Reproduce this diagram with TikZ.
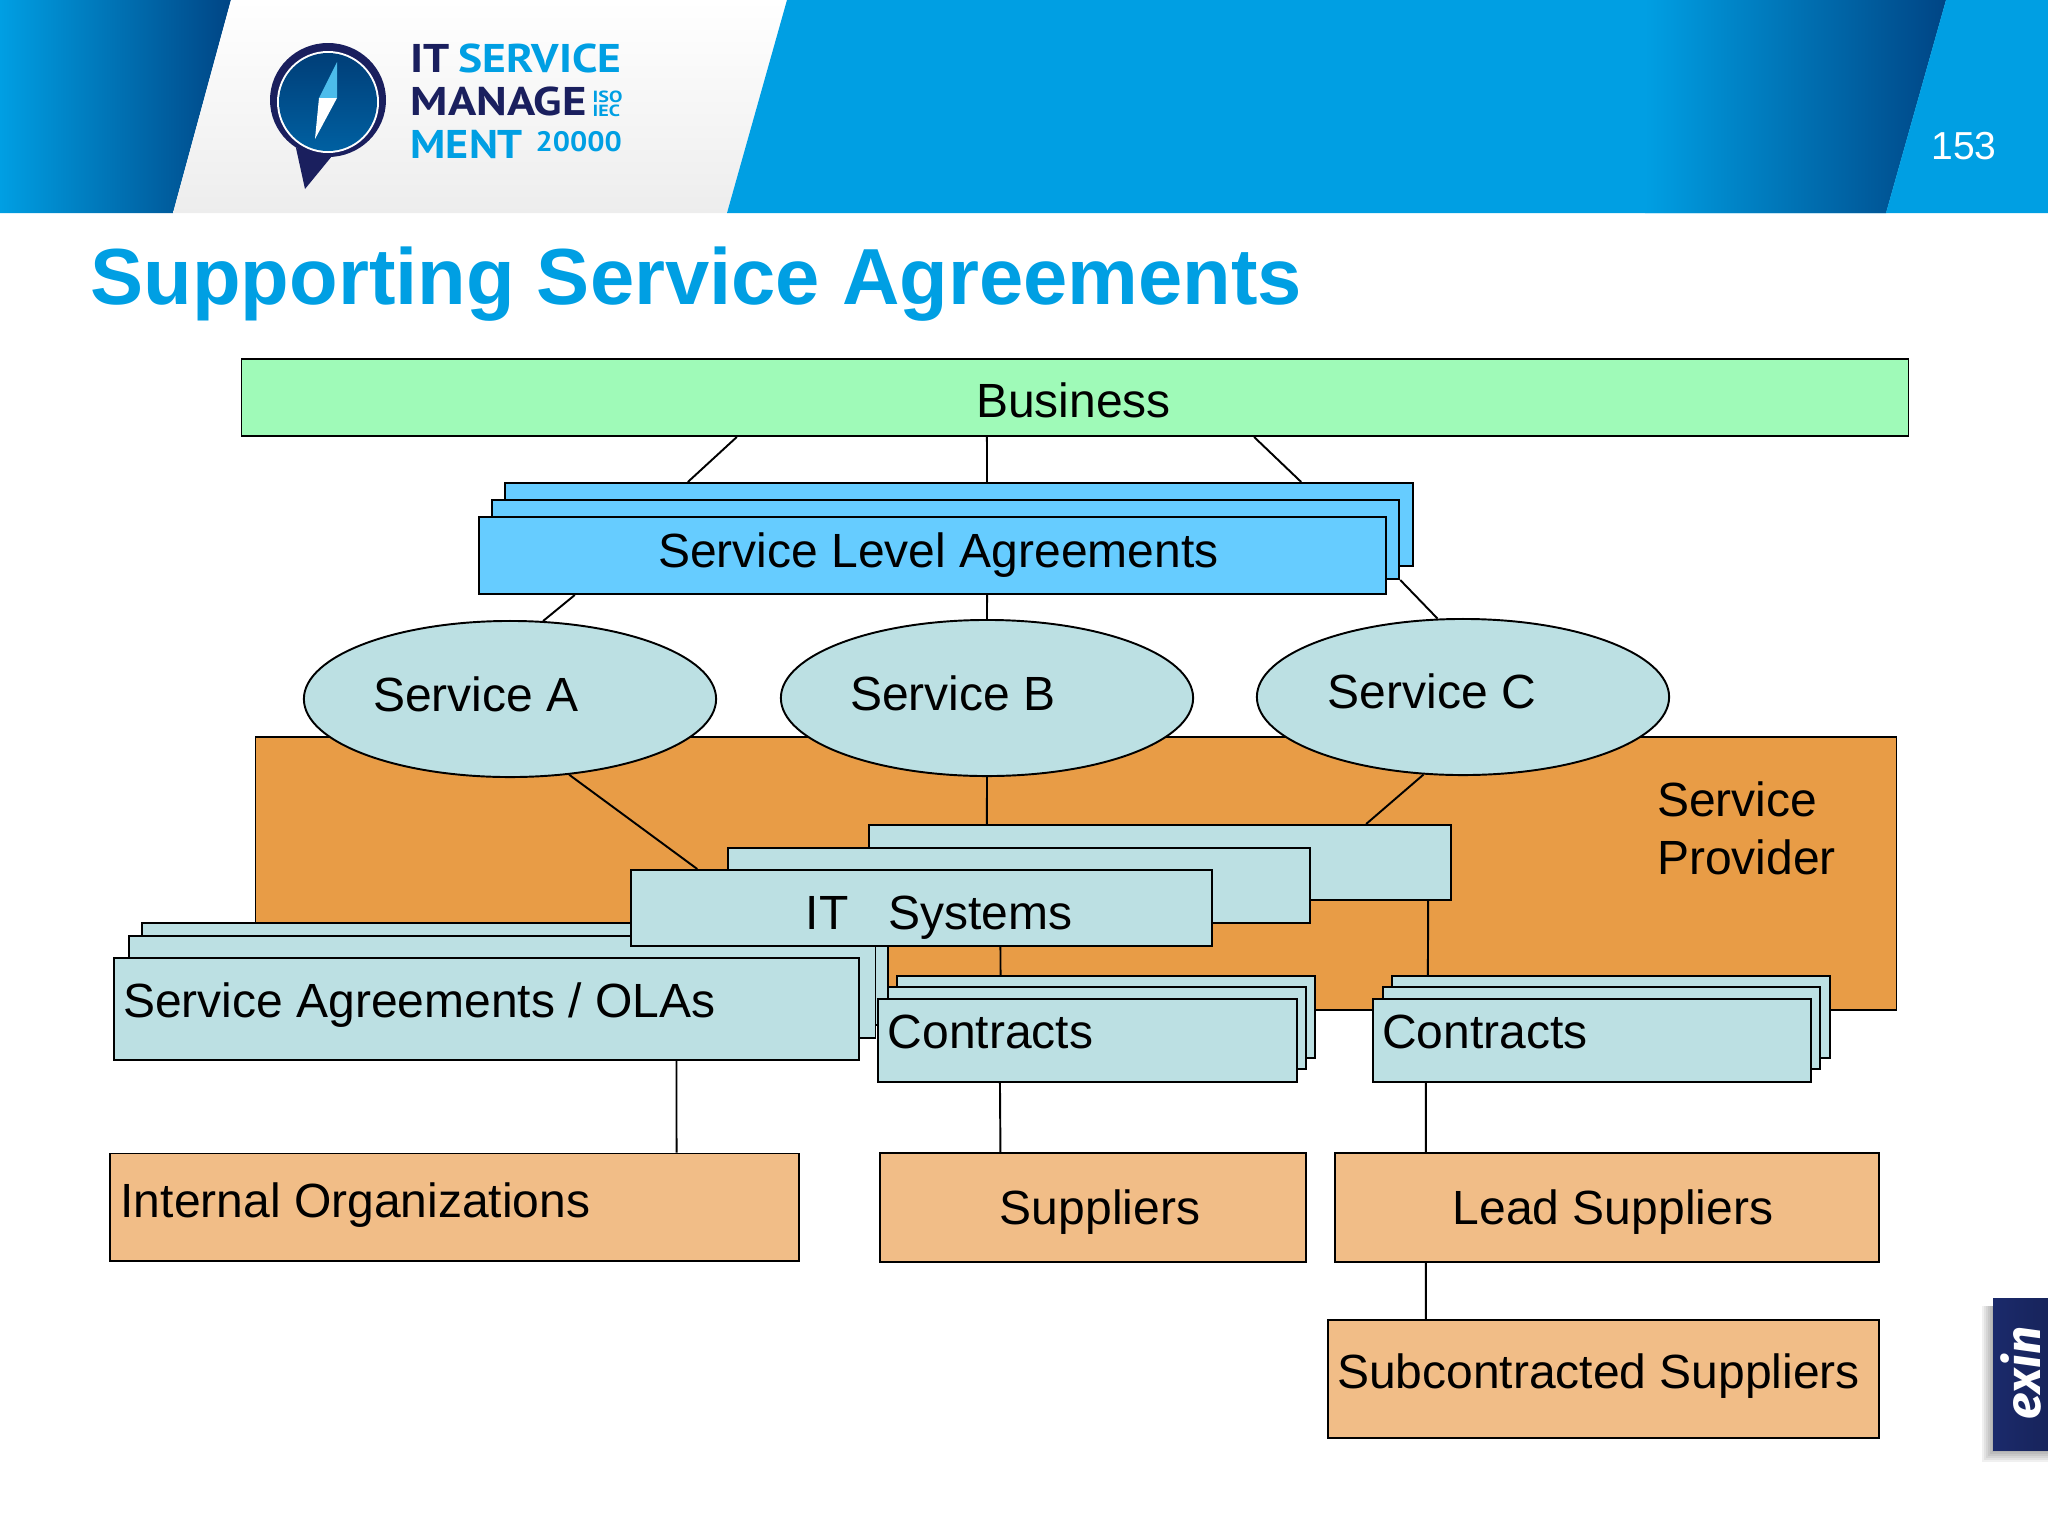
\documentclass[tikz,border=0pt]{standalone}
\usepackage{fontspec}
\usepackage{graphicx}
\setmainfont{Liberation Sans}
\newfontfamily\logofont{PT Sans}
\newfontfamily\tabfont{Fira Sans}
\usetikzlibrary{shapes.geometric}

\definecolor{headblue}{HTML}{009FE3}
\definecolor{headdark}{HTML}{004585}
\definecolor{navy}{HTML}{1A1F5E}
\definecolor{tabnavy}{HTML}{1B2A6B}
\definecolor{bizgreen}{HTML}{9FFAB8}
\definecolor{slablue}{HTML}{66CCFF}
\definecolor{palecyan}{HTML}{BCE0E3}
\definecolor{provorange}{HTML}{E89C46}
\definecolor{suporange}{HTML}{F1BD87}

\tikzstyle{every label}=[inner sep=0pt, font=\fontsize{13.65}{16.4}\selectfont]
\tikzstyle{box} = [rectangle, draw, line width=.55pt, inner sep=0pt]
\tikzstyle{service} = [ellipse, draw, line width=.55pt, inner sep=0pt, fill=palecyan,
     minimum width=4.12cm, minimum height=1.56cm]
\tikzstyle{pale} = [box, fill=palecyan]
\tikzstyle{supply} = [box, fill=suporange]
\tikzstyle{link} = [draw, line width=.55pt]
\tikzstyle{logotext} = [inner sep=0pt, anchor=base west]
\tikzstyle{logobig} = [logotext, font=\logofont\bfseries\fontsize{11.4}{13}\selectfont]
\tikzstyle{logosmall} = [logotext, text=headblue, font=\logofont\bfseries\fontsize{4.6}{5}\selectfont]

\begin{document}
\begin{tikzpicture}[x=.01cm,y=-.01cm]
\useasboundingbox (0,0) rectangle (2048,1536);

% banner
\shade[left color=headblue,right color=headdark] (0,0)--(231,0)--(173,213)--(0,213)--cycle;
\shade[top color=white,bottom color=black!7] (231,0)--(787,0)--(727,213)--(173,213)--cycle;
\fill[headblue] (787,0)--(1946,0)--(1886,213)--(727,213)--cycle;
\shade[left color=headblue,right color=headdark] (1645,0)--(1946,0)--(1886,213)--(1645,213)--cycle;
\fill[headblue] (1946,0)--(2048,0)--(2048,213)--(1886,213)--cycle;
\node[text=white,inner sep=0pt,font=\fontsize{11.1}{13}\selectfont](pageno) at (1964,146) {153};

% logo
\fill[navy] (296,148)--(305,189)--(332,156)--cycle;
\fill[navy] (328,100) ellipse (58 and 57);
\fill[white] (328,102) ellipse (51 and 51);
\shade[top color=headdark!90!black,bottom color=headdark!70!headblue] (328,102) ellipse (49 and 49);
\fill[headblue!70] (337,62)--(319,98)--(337,98)--cycle;
\fill[white] (319,98)--(337,98)--(315,139)--cycle;
\node[logobig,text=navy](logoit) at (410,72) {\scalebox{1.15}[1]{IT}};
\node[logobig,text=headblue](logoservice) at (458,72) {\scalebox{1.136}[1]{SERVICE}};
\node[logobig,text=navy](logomanage) at (410,115) {\scalebox{1.165}[1]{MANAGE}};
\node[logobig,text=headblue](logoment) at (410,158) {\scalebox{1.1}[1]{MENT}};
\node[logosmall](logoiso) at (592,102) {\scalebox{1.24}[1]{ISO}};
\node[logosmall](logoiec) at (592,116) {\scalebox{1.24}[1]{IEC}};
\node[logotext,text=headblue,font=\logofont\bfseries\fontsize{8}{9}\selectfont](logonum) at (535,151) {\scalebox{1.08}[1]{20000}};

% exin tab
\foreach \d in {0,1,...,5} {
  \fill[black,opacity=.06] (1982+\d*2,1306) rectangle (2048,1462-\d*2);
}
\shade[left color=tabnavy,right color=tabnavy!85!black] (1993,1298) rectangle (2048,1450);
\node[text=white,inner sep=0pt,rotate=90,font=\tabfont\bfseries\itshape\fontsize{14}{16}\selectfont](exin) at (2021,1373) {exin};

\node[inner sep=0pt,anchor=base west,text=headblue,font=\fontsize{22.62}{27}\selectfont\bfseries](title) at (90,304) {Supporting Service Agreements};

\node[box,fill=provorange,minimum width=16.4cm,minimum height=2.73cm,
     label={[align=left,xshift=6.7cm,yshift=.45cm]center:Service\\Provider}](provider) at (1076,873.5) {};
\node[box,fill=bizgreen,minimum width=16.66cm,minimum height=.77cm,
     label={[xshift=-.014cm,yshift=-.025cm]center:Business}](business) at (1075,397.5) {};

\node[box,fill=slablue,minimum width=9.08cm,minimum height=.83cm](slaback) at (959,524.5) {};
\node[box,fill=slablue,minimum width=9.07cm,minimum height=.79cm](slamid) at (945.5,539.5) {};
\node[box,fill=slablue,minimum width=9.07cm,minimum height=.77cm,
     label={[xshift=.059cm,yshift=.005cm]center:Service Level Agreements}](slafront) at (932.5,555.5) {};

\node[pale,minimum width=5.82cm,minimum height=.75cm](itback) at (1160,862.5) {};
\node[pale,minimum width=5.82cm,minimum height=.75cm](itmid) at (1019,885.5) {};

\node[service,label={[xshift=-.34cm,yshift=.05cm]center:Service A}](serva) at (510,699) {};
\node[service,label={[xshift=-.34cm,yshift=.05cm]center:Service B}](servb) at (987,698) {};
\node[service,label={[xshift=-.31cm,yshift=.06cm]center:Service C}](servc) at (1463,697) {};

\node[pale,minimum width=7.46cm,minimum height=1.02cm](saback) at (515,974) {};
\node[pale,minimum width=7.465cm,minimum height=1.02cm](samid) at (502,987) {};
\node[pale,minimum width=7.45cm,minimum height=1.02cm,
     label={[xshift=-.67cm,yshift=.035cm]center:Service Agreements / OLAs}](safront) at (486.4,1009) {};

\node[pale,minimum width=5.81cm,minimum height=.76cm,
     label={[xshift=.176cm,yshift=-.1cm]center:IT\ \ \ Systems}](itfront) at (921.4,908) {};

\node[pale,minimum width=4.18cm,minimum height=.82cm](conaback) at (1106,1017) {};
\node[pale,minimum width=4.18cm,minimum height=.82cm](conamid) at (1097,1028) {};
\node[pale,minimum width=4.19cm,minimum height=.83cm,
     label={[xshift=-.97cm,yshift=.085cm]center:Contracts}](conafront) at (1087.5,1040.5) {};

\node[pale,minimum width=4.38cm,minimum height=.82cm](conbback) at (1611,1017) {};
\node[pale,minimum width=4.37cm,minimum height=.82cm](conbmid) at (1601.5,1028) {};
\node[pale,minimum width=4.38cm,minimum height=.83cm,
     label={[xshift=-1.07cm,yshift=.085cm]center:Contracts}](conbfront) at (1592,1040.5) {};

\node[supply,minimum width=6.89cm,minimum height=1.07cm,
     label={[xshift=-.99cm,yshift=.015cm]center:Internal Organizations}](internal) at (454.5,1207) {};
\node[supply,minimum width=4.26cm,minimum height=1.09cm,
     label={[xshift=.07cm,yshift=-.05cm]center:Suppliers}](suppliers) at (1093,1207.5) {};
\node[supply,minimum width=5.44cm,minimum height=1.09cm,
     label={[xshift=.06cm,yshift=-.05cm]center:Lead Suppliers}](lead) at (1607,1207.5) {};
\node[supply,minimum width=5.51cm,minimum height=1.18cm,
     label={[xshift=-.05cm,yshift=.03cm]center:Subcontracted Suppliers}](subcon) at (1603.5,1379) {};

\path[link] ([xshift=-3.38cm]business.south)--([xshift=-2.71cm]slaback.north);
\path[link] ([xshift=-.88cm]business.south)--([xshift=.28cm]slaback.north);
\path[link] ([xshift=1.79cm]business.south)--([xshift=3.42cm]slaback.north);
\path[link] ([xshift=-3.575cm]slafront.south)--(serva.67);
\path[link] ([xshift=.545cm]slafront.south)--(servb.north);
\path[link] (slamid.south east)--(servc.108);
\path[link] (serva.-52)--([xshift=-2.24cm]itfront.north);
\path[link] (servb.south)--([xshift=-1.73cm]itback.north);
\path[link] (servc.-117)--([xshift=2.06cm]itback.north);
\path[link] ([xshift=.79cm]itfront.south)--([xshift=-1.054cm]conaback.north);
\path[link] ([xshift=2.68cm]itback.south)--([xshift=-1.83cm]conbback.north);
\path[link] ([xshift=1.9cm]safront.south)--([xshift=2.219cm]internal.north);
\path[link] ([xshift=-.875cm]conafront.south)--([xshift=-.925cm]suppliers.north);
\path[link] ([xshift=-1.66cm]conbfront.south)--([xshift=-1.81cm]lead.north);
\path[link] ([xshift=-1.81cm]lead.south)--([xshift=-1.775cm]subcon.north);
\end{tikzpicture}
\end{document}
